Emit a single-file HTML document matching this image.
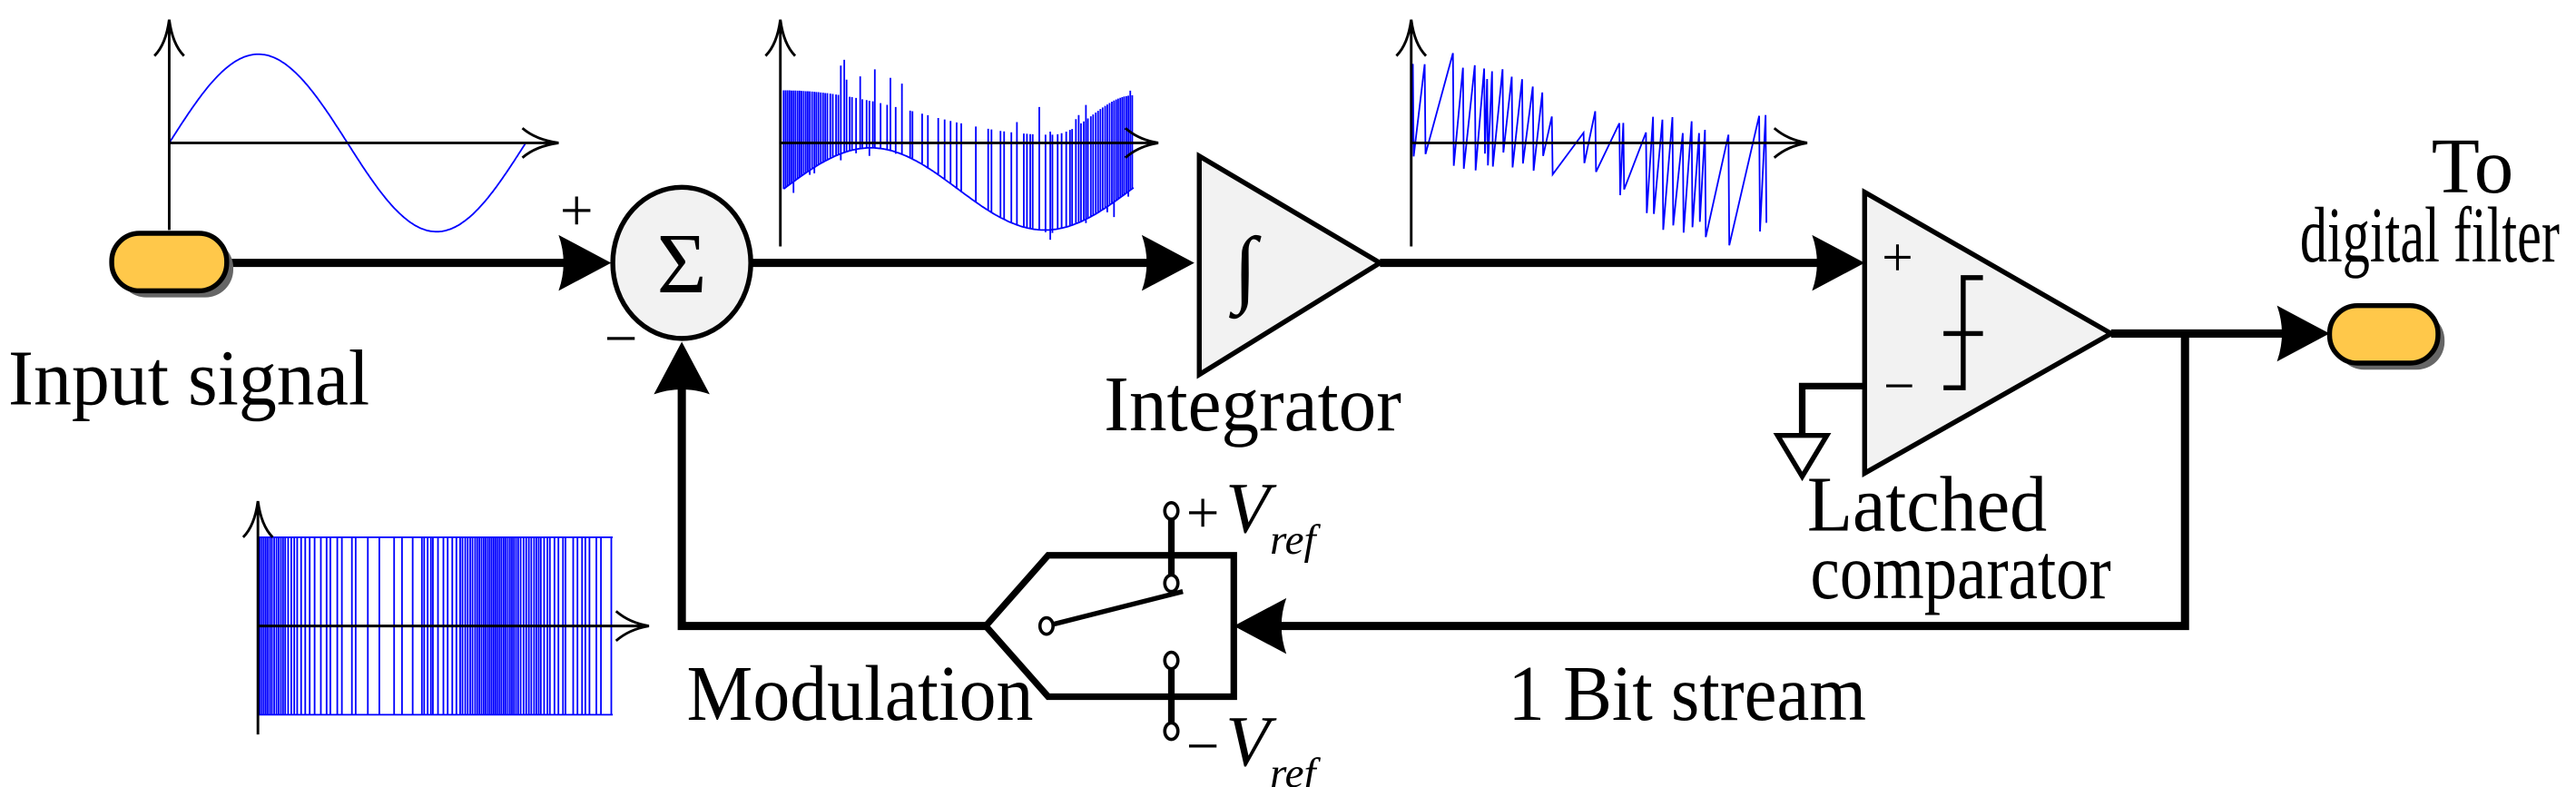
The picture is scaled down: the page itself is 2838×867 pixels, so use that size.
<!DOCTYPE html>
<html><head><meta charset="utf-8"><style>
html,body{margin:0;padding:0;background:#fff;}
svg{display:block;}
svg text{font-family:"Liberation Serif","Times New Roman","DejaVu Serif",serif;fill:#000;}
</style></head><body>
<svg id="s" width="2838" height="867" viewBox="0 0 1568 479" preserveAspectRatio="none" xmlns="http://www.w3.org/2000/svg" font-family="Liberation Serif, Times New Roman, DejaVu Serif, serif">
<g id="waves" fill="none" stroke="#0000ff" stroke-width="1"></g>

<g fill="none" stroke="#000" stroke-width="1.6">
 <path d="M103 140 V12 M94 34 Q101 27 103 12 Q105 27 112 34"/>
 <path d="M103 87 H340 M318 78 Q326 85 340 87 Q326 89 318 96"/>
 <path d="M475 150 V12 M466 34 Q473 27 475 12 Q477 27 484 34"/>
 <path d="M475 87 H705 M685 78 Q693 85 705 87 Q693 89 685 96"/>
 <path d="M859 150 V12 M850 34 Q857 27 859 12 Q861 27 868 34"/>
 <path d="M859 87 H1100 M1080 78 Q1088 85 1100 87 Q1088 89 1080 96"/>
 <path d="M157 447 V305 M148 327 Q155 320 157 305 Q159 320 166 327"/>
 <path d="M157 381 H395 M375 372 Q383 379 395 381 Q383 383 375 390"/>
</g>

<g fill="none" stroke="#000" stroke-width="5">
 <path d="M137 160 H355"/>
 <path d="M458 160 H710"/>
 <path d="M840 160 H1115"/>
 <path d="M1285 203 H1400"/>
 <path d="M1330 203 V381 H765"/>
 <path d="M600 381 H415 V225"/>
 <path d="M1135 235 H1097 V264" stroke-width="4"/>
</g>
<g fill="#000">
 <path d="M372 160 L340 143 Q346 160 340 177 Z"/>
 <path d="M727 160 L695 143 Q701 160 695 177 Z"/>
 <path d="M1135 160 L1103 143 Q1109 160 1103 177 Z"/>
 <path d="M1418 203 L1386 186 Q1392 203 1386 220 Z"/>
 <path d="M751 381 L783 364 Q777 381 783 398 Z"/>
 <path d="M415 208 L398 240 Q415 234 432 240 Z"/>
</g>

<rect x="72" y="146" width="70" height="35" rx="17" fill="#666"/>
<rect x="68" y="142" width="70" height="35" rx="17" fill="#ffc84a" stroke="#000" stroke-width="3"/>
<rect x="1422" y="190" width="66" height="35" rx="17" fill="#666"/>
<rect x="1418" y="186" width="66" height="35" rx="17" fill="#ffc84a" stroke="#000" stroke-width="3"/>

<ellipse cx="415" cy="160" rx="42" ry="46" fill="#f2f2f2" stroke="#000" stroke-width="3"/>
<text x="415" y="178" font-size="52" text-anchor="middle">Σ</text>
<text x="351" y="140" font-size="36" text-anchor="middle">+</text>
<text x="378" y="218" font-size="36" text-anchor="middle">−</text>

<path d="M730 95 L840 160 L730 228 Z" fill="#f2f2f2" stroke="#000" stroke-width="3"/>
<text x="758" y="180" font-size="52" text-anchor="middle" font-style="italic">∫</text>

<path d="M1135 117 L1285 203 L1135 288 Z" fill="#f2f2f2" stroke="#000" stroke-width="3"/>
<text x="1155" y="168" font-size="34" text-anchor="middle">+</text>
<text x="1156" y="246" font-size="34" text-anchor="middle">−</text>
<path d="M1207 169 H1195 V236 H1183 M1183 203 H1207" fill="none" stroke="#000" stroke-width="3"/>
<path d="M1082 265 H1112 L1097 290 Z" fill="#fff" stroke="#000" stroke-width="3"/>

<path d="M600 381 L638 338 H751 V424 H638 Z" fill="none" stroke="#000" stroke-width="4"/>
<g stroke="#000" stroke-width="4" fill="none">
 <path d="M713 311 V355 M713 402 V445"/>
 <path d="M637 381 L720 360" stroke-width="3"/>
</g>
<g fill="#fff" stroke="#000" stroke-width="2">
 <ellipse cx="713" cy="311" rx="4" ry="5"/>
 <ellipse cx="713" cy="355" rx="4" ry="5"/>
 <ellipse cx="713" cy="402" rx="4" ry="5"/>
 <ellipse cx="713" cy="445" rx="4" ry="5"/>
 <ellipse cx="637" cy="381" rx="4" ry="5"/>
</g>
<text x="722" y="324" font-size="36">+</text>
<text x="746" y="324" font-size="44" font-style="italic">V</text>
<text x="773" y="337" font-size="26" font-style="italic">ref</text>
<text x="722" y="466" font-size="36">−</text>
<text x="746" y="466" font-size="44" font-style="italic">V</text>
<text x="773" y="479" font-size="26" font-style="italic">ref</text>

<text x="5" y="246" font-size="48" textLength="220" lengthAdjust="spacingAndGlyphs">Input signal</text>
<text x="672" y="262" font-size="48" textLength="181" lengthAdjust="spacingAndGlyphs">Integrator</text>
<text x="1100" y="323" font-size="48" textLength="146" lengthAdjust="spacingAndGlyphs">Latched</text>
<text x="1102" y="364" font-size="48" textLength="183" lengthAdjust="spacingAndGlyphs">comparator</text>
<text x="1480" y="117" font-size="48" textLength="50" lengthAdjust="spacingAndGlyphs">To</text>
<text x="1400" y="159" font-size="48" textLength="158" lengthAdjust="spacingAndGlyphs">digital filter</text>
<text x="418" y="438" font-size="48" textLength="211" lengthAdjust="spacingAndGlyphs">Modulation</text>
<text x="918" y="438" font-size="48" textLength="218" lengthAdjust="spacingAndGlyphs">1 Bit stream</text>
</svg>
<script>
(function(){
var g=document.getElementById('waves'),d='';
var seed=7;function r(){seed=(seed*16807)%2147483647;return seed/2147483647;}
for(var x=103;x<=320;x++){var y=87-54*Math.sin(2*Math.PI*(x-103)/217);d+=(x==103?'M':'L')+x+' '+y.toFixed(1);}
function lo(x){return 115-25*Math.sin(Math.PI*(x-477)/106);}
function up(x){if(x<=640)return 55+27*(1-Math.cos(Math.PI*(x-477)/163))/2;return 82-24*(1-Math.cos(Math.PI*(x-640)/50))/2;}
var p='';for(x=477;x<=690;x++){p+=(x==477?'M':'L')+x+' '+lo(x).toFixed(1);}
d+=p;
x=477;while(x<690){var dens=Math.abs(Math.cos(Math.PI*(x-477)/213));var step=1.2+(1-dens)*8*r();
var t=up(x)-(r()<0.15?22*r():0),b=lo(x)+(r()<0.15?10*r():0);d+='M'+x.toFixed(1)+' '+t.toFixed(1)+'V'+b.toFixed(1);x+=step;}
x=860;d+='M860 87';
while(x<1078){var u=(x-860)/218;var amp=45*Math.cos(Math.PI*u*1.1);var hi=87-Math.max(amp,0)*0.9-15*r()-5,lw=87-Math.min(amp,0)+15*r()+5;
var st=1.5+6*r();if(r()<0.1)st+=12;d+='L'+x.toFixed(1)+' '+hi.toFixed(1)+'L'+(x+0.5).toFixed(1)+' '+lw.toFixed(1);x+=st;}
d+='M157 327H373M157 435H373';
x=157;while(x<373){var dn=Math.abs(Math.cos(Math.PI*(x-157)/216*1.5));var st2=1.2+(1-dn)*10*r();d+='M'+x.toFixed(1)+' 327V435';x+=st2;}
var path=document.createElementNS('http://www.w3.org/2000/svg','path');path.setAttribute('d',d);g.appendChild(path);
})();
</script>
</body></html>
